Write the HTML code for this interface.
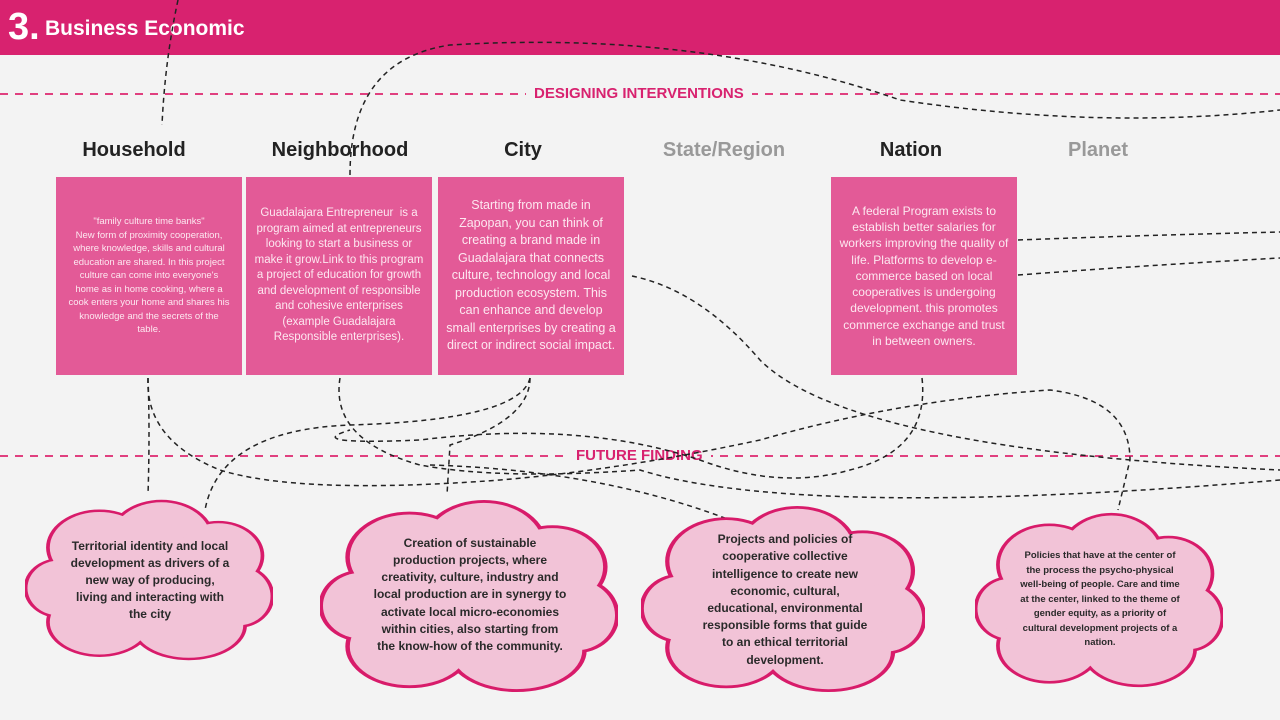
<!DOCTYPE html>
<html><head><meta charset="utf-8"><style>
body{margin:0;width:1280px;height:720px;background:#f3f3f3;position:relative;overflow:hidden;font-family:"Liberation Sans",sans-serif}
.hdr{position:absolute;left:0;top:0;width:1280px;height:55px;background:#d8226f}
.hdr .n{position:absolute;left:8px;top:6px;color:#fff;font-weight:bold;font-size:38px}
.hdr .t{position:absolute;left:45px;top:17px;color:#fff;font-weight:bold;font-size:21px}
.lab{position:absolute;font-weight:bold;font-size:20px;color:#222;text-align:center;width:200px}
.box{position:absolute;background:#e35a97;color:#fde7f0;text-align:center;display:flex;align-items:center;justify-content:center;box-sizing:border-box;padding:6px}
.sec{position:absolute;color:#d8226f;font-weight:bold;font-size:15px;background:#f3f3f3;padding:0 8px}
.ct{position:absolute;text-align:center;font-weight:bold;color:#2a2a2a;display:flex;align-items:center;justify-content:center}
svg{position:absolute;left:0;top:0}
</style></head><body>
<div class="hdr"><span class="n">3.</span><span class="t">Business Economic</span></div>
<svg width="1280" height="720">
<line x1="0" y1="94" x2="1280" y2="94" stroke="#e0407f" stroke-width="2" stroke-dasharray="8,7"/>
<line x1="0" y1="456" x2="1280" y2="456" stroke="#e0407f" stroke-width="2" stroke-dasharray="8,7"/>
</svg>
<div class="sec" style="left:526px;top:85px">DESIGNING INTERVENTIONS</div>
<div class="sec" style="left:568px;top:447px">FUTURE FINDING</div>
<div class="lab" style="left:34px;top:139px">Household</div>
<div class="lab" style="left:240px;top:139px">Neighborhood</div>
<div class="lab" style="left:423px;top:139px">City</div>
<div class="lab" style="left:624px;top:139px;color:#999">State/Region</div>
<div class="lab" style="left:811px;top:139px">Nation</div>
<div class="lab" style="left:998px;top:139px;color:#999">Planet</div>
<div class="box" style="left:56px;top:177px;width:186px;height:198px;font-size:9.5px;line-height:13.5px;padding:6px 12px">"family culture time banks"<br>New form of proximity cooperation, where knowledge, skills and cultural education are shared. In this project culture can come into everyone's home as in home cooking, where a cook enters your home and shares his knowledge and the secrets of the table.</div>
<div class="box" style="left:246px;top:177px;width:186px;height:198px;font-size:11.5px;line-height:15.5px">Guadalajara Entrepreneur &nbsp;is a program aimed at entrepreneurs looking to start a business or make it grow.Link to this program a project of education for growth and development of responsible and cohesive enterprises (example Guadalajara Responsible enterprises).</div>
<div class="box" style="left:438px;top:177px;width:186px;height:198px;font-size:12.5px;line-height:17.5px">Starting from made in Zapopan, you can think of creating a brand made in Guadalajara that connects culture, technology and local production ecosystem. This can enhance and develop small enterprises by creating a direct or indirect social impact.</div>
<div class="box" style="left:831px;top:177px;width:186px;height:198px;font-size:12px;line-height:16.3px">A federal Program exists to establish better salaries for workers improving the quality of life. Platforms to develop e-commerce based on local cooperatives is undergoing development. this promotes commerce exchange and trust in between owners.</div>
<svg width="1280" height="720" fill="none" stroke="#222" stroke-width="1.5" stroke-dasharray="5,4">
<path d="M178 0 Q165 60 162 125"/>
<path d="M350 175 Q350 60 450 45 Q700 30 900 100 Q1100 130 1280 110"/>
<path d="M1018 240 Q1150 235 1280 232"/>
<path d="M1018 275 Q1150 265 1280 258"/>
<path d="M148 378 Q145 440 220 470 Q300 495 500 480 Q620 470 760 440 Q900 400 1050 390 Q1130 400 1130 460 L1118 510"/>
<path d="M148 378 Q150 430 148 495"/>
<path d="M340 378 Q330 440 420 465 Q500 480 640 470 Q800 520 1280 480"/>
<path d="M530 378 Q530 420 450 445 L447 495"/>
<path d="M530 378 Q520 420 350 425 Q220 430 205 510"/>
<path d="M632 276 Q700 290 760 360 Q850 450 1280 470"/>
<path d="M922 378 Q930 450 850 470 Q780 490 700 460 Q580 420 420 440 Q300 445 350 430"/>
<path d="M430 465 Q600 470 730 520"/>
</svg>
<svg width="1280" height="720">
<defs><g id="cl">
<ellipse cx="50" cy="52" rx="38" ry="34"/><ellipse cx="30" cy="30" rx="20" ry="22"/><ellipse cx="55" cy="25" rx="20" ry="23"/><ellipse cx="78" cy="35" rx="17" ry="20"/><ellipse cx="14" cy="55" rx="13" ry="17"/><ellipse cx="86" cy="60" rx="13" ry="18"/><ellipse cx="30" cy="76" rx="20" ry="20"/><ellipse cx="66" cy="78" rx="22" ry="20"/>
</g></defs>
</svg>
<svg style="left:25px;top:499px" width="248" height="162" viewBox="0 0 100 100" preserveAspectRatio="none"><use href="#cl" fill="#d81b6a" stroke="#d81b6a" stroke-width="3"/><use href="#cl" fill="#f2c3d7"/></svg>
<svg style="left:320px;top:499px" width="298" height="194" viewBox="0 0 100 100" preserveAspectRatio="none"><use href="#cl" fill="#d81b6a" stroke="#d81b6a" stroke-width="3"/><use href="#cl" fill="#f2c3d7"/></svg>
<svg style="left:641px;top:505px" width="284" height="188" viewBox="0 0 100 100" preserveAspectRatio="none"><use href="#cl" fill="#d81b6a" stroke="#d81b6a" stroke-width="3"/><use href="#cl" fill="#f2c3d7"/></svg>
<svg style="left:975px;top:512px" width="248" height="176" viewBox="0 0 100 100" preserveAspectRatio="none"><use href="#cl" fill="#d81b6a" stroke="#d81b6a" stroke-width="3"/><use href="#cl" fill="#f2c3d7"/></svg>
<div class="ct" style="left:70px;top:530px;width:160px;height:100px;font-size:12px;line-height:17px">Territorial identity and local development as drivers of a new way of producing, living and interacting with the city</div>
<div class="ct" style="left:372px;top:525px;width:196px;height:140px;font-size:12px;line-height:17.2px">Creation of sustainable production projects, where creativity, culture, industry and local production are in synergy to activate local micro-economies within cities, also starting from the know-how of the community.</div>
<div class="ct" style="left:697px;top:530px;width:176px;height:140px;font-size:12px;line-height:17.2px">Projects and policies of cooperative collective intelligence to create new economic, cultural, educational, environmental responsible forms that guide to an ethical territorial development.</div>
<div class="ct" style="left:1020px;top:540px;width:160px;height:120px;font-size:9.5px;line-height:14.5px">Policies that have at the center of the process the psycho-physical well-being of people. Care and time at the center, linked to the theme of gender equity, as a priority of cultural development projects of a nation.</div>
</body></html>
